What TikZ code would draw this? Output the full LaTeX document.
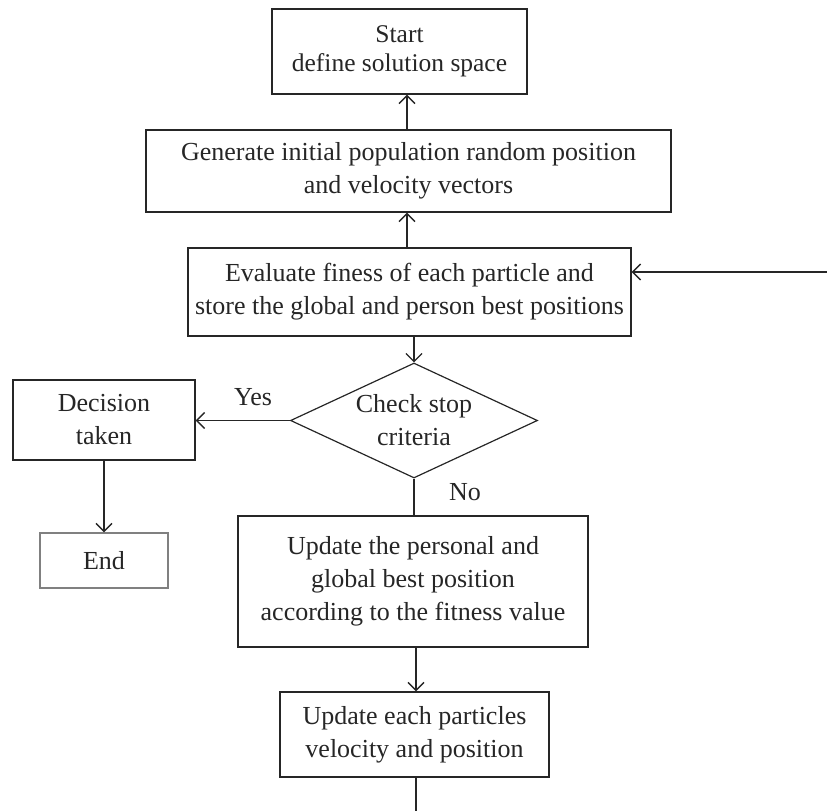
\documentclass[tikz,border=0pt]{standalone}
\usepackage{fontspec}
\setmainfont{Liberation Serif}
\usetikzlibrary{arrows.meta,shapes.geometric}
\begin{document}
\begin{tikzpicture}[x=1pt,y=-1pt,
  font=\fontsize{26}{33}\selectfont,
  every node/.style={text=black!85},
  box/.style={draw=black!85,line width=1.4pt,rectangle,inner sep=0pt,align=center},
  endbox/.style={box,draw=black!50},
  dec/.style={draw=black!85,line width=1.2pt,diamond,aspect=2.15,inner sep=0pt,align=center,minimum width=247pt,minimum height=115pt},
  conn/.style={draw=black!85,line width=1.4pt},
  arr/.style={conn,-{Straight Barb[length=8pt,width=16pt,line width=1.3pt]}},
  lbl/.style={inner sep=0pt}]
\useasboundingbox (0,0) rectangle (827,811);
\node[box,minimum width=255pt,minimum height=85pt,font=\fontsize{25.5}{29}\selectfont] (start) at (399.5,51.5) {Start\\define solution space};
\node[box,minimum width=525pt,minimum height=82pt] (gen) at (408.5,171) {Generate initial population random position\\and velocity vectors};
\node[box,minimum width=443pt,minimum height=88pt] (eval) at (409.5,292) {Evaluate finess of each particle and\\store the global and person best positions};
\node[dec] (chk) at (414,420.5) {Check stop\\criteria};
\node[box,minimum width=182pt,minimum height=80pt] (dect) at (104,420) {Decision\\taken};
\node[endbox,minimum width=128pt,minimum height=55pt] (end) at (104,560.5) {End};
\node[box,minimum width=350pt,minimum height=131pt] (upd) at (413,581.5) {Update the personal and\\global best position\\according to the fitness value};
\node[box,minimum width=269pt,minimum height=85pt] (vel) at (414.5,734.5) {Update each particles\\velocity and position};
\node[lbl] (yes) at (253,397) {Yes};
\node[lbl] (no) at (465,492) {No};
\coordinate (axA) at (407,0);
\coordinate (axB) at (416,0);
\coordinate (fb) at (827,272);
\coordinate (bot) at (416,811);
\draw[arr] (gen.north -| axA) -- (start.south -| axA);
\draw[arr] (eval.north -| axA) -- (gen.south -| axA);
\draw[arr] (fb) -- (fb -| eval.east);
\draw[arr] (eval.south -| chk.north) -- (chk.north);
\draw[arr] (chk.west) -- (chk.west -| dect.east);
\draw[arr] (dect.south) -- (end.north);
\draw[conn] (chk.south) -- (chk.south |- upd.north);
\draw[arr] (upd.south -| axB) -- (vel.north -| axB);
\draw[conn] (vel.south -| bot) -- (bot);
\end{tikzpicture}
\end{document}
